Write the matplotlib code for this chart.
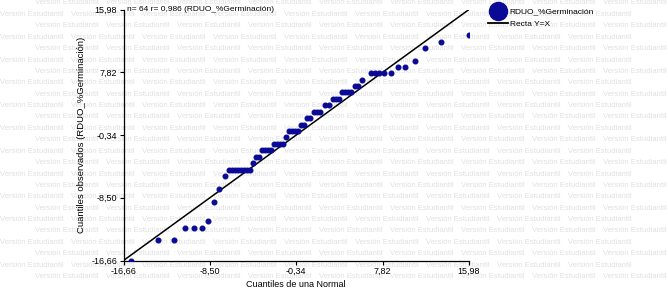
import numpy as np
import matplotlib.pyplot as plt

plt.rcParams['font.family'] = ['Liberation Sans', 'DejaVu Sans']

# Cuantiles teoricos (normal) y observados de RDUO_%Germinacion
normal_q = [-15.98, -13.40, -11.89, -10.85, -10.00, -9.24, -8.68, -8.11, -7.64, -7.07,
            -6.69, -6.41, -6.13, -5.84, -5.56, -5.28, -4.99, -4.71,
            -4.43, -4.14, -3.86, -3.58, -3.29, -3.01, -2.73,
            -2.44, -2.16, -1.88, -1.59, -1.31,
            -1.03, -0.75, -0.46, -0.18, 0.11, 0.39, 0.67, 0.96,
            1.33, 1.62, 1.90, 2.37, 2.75, 3.13, 3.41, 3.70,
            3.98, 4.26, 4.55, 4.83, 5.21, 5.49, 5.87,
            6.72, 7.10, 7.48, 7.95, 8.61, 9.27, 9.93, 10.88, 11.82, 13.33, 15.98]
observed_q = [-16.66, -13.99, -13.99, -12.43, -12.43, -12.43, -11.52, -9.05, -7.36, -5.67,
              -4.89, -4.89, -4.89, -4.89, -4.89, -4.89, -4.89, -4.89,
              -3.98, -3.20, -3.20, -2.29, -2.29, -2.29, -2.29,
              -1.51, -1.51, -1.51, -1.51, -0.60,
              0.18, 0.18, 0.18, 0.18, 0.96, 0.96, 1.87, 1.87,
              2.65, 2.65, 2.65, 3.56, 3.56, 4.34, 4.34, 4.34,
              5.25, 5.25, 5.25, 5.25, 6.03, 6.03, 6.81,
              7.72, 7.72, 7.72, 7.72, 7.72, 8.50, 8.50, 9.28, 10.97, 11.75, 12.66]
ticks = [-16.66, -8.50, -0.34, 7.82, 15.98]
tick_labels = ['-16,66', '-8,50', '-0,34', '7,82', '15,98']
lo, hi = -16.66, 15.98

fig = plt.figure(figsize=(6.68, 2.88), dpi=100)

# marca de agua
for row in range(25):
    y = 1 - (3 + row * 11.4) / 288
    x0 = 35 if row % 2 == 0 else 0
    for k in range(10):
        if x0 + k * 71 + 62 > 668:
            break
        fig.text((x0 + k * 71) / 668, y, 'Versión Estudiantil', fontsize=5.5,
                 color='#e0e0e0', va='center', ha='left', zorder=-1)

ax = fig.add_axes([123.5 / 668, 1 - 260.5 / 288, 345.5 / 668, 251 / 288])
ax.set_facecolor('none')

ax.plot([lo, hi], [lo, hi], color='black', lw=1.1, label='Recta Y=X', zorder=2)
ax.scatter(normal_q, observed_q, s=11, color='#0a0a96', zorder=3,
           label='RDUO_%Germinación')

ax.set_xlim(lo, hi)
ax.set_ylim(lo, hi)
ax.set_xticks(ticks)
ax.set_xticklabels(tick_labels)
ax.set_yticks(ticks)
ax.set_yticklabels(tick_labels)
ax.tick_params(labelsize=6.5, length=3, width=0.8, pad=1.5, colors='black')
for s in ['top', 'right']:
    ax.spines[s].set_visible(False)
for s in ['left', 'bottom']:
    ax.spines[s].set_linewidth(0.9)

ax.set_xlabel('Cuantiles de una Normal', fontsize=6.5, labelpad=3)
ax.set_ylabel('Cuantiles observados (RDUO_%Germinación)', fontsize=6.8, labelpad=4)
ax.text(0.01, 1.0, 'n= 64 r= 0,986 (RDUO_%Germinación)', transform=ax.transAxes,
        fontsize=6, va='center', ha='left')

h_pts = plt.Line2D([], [], marker='o', ls='none', color='#0a0a96', markersize=13)
h_line = plt.Line2D([], [], color='black', lw=1.3)
fig.legend([h_pts, h_line], ['RDUO_%Germinación', 'Recta Y=X'],
           loc='upper left', bbox_to_anchor=(482 / 668, 1 - 2 / 288),
           frameon=False, fontsize=6, handlelength=2.4, handletextpad=0.2,
           labelspacing=0.55, borderpad=0.2)

fig.savefig('out.png', dpi=100)
